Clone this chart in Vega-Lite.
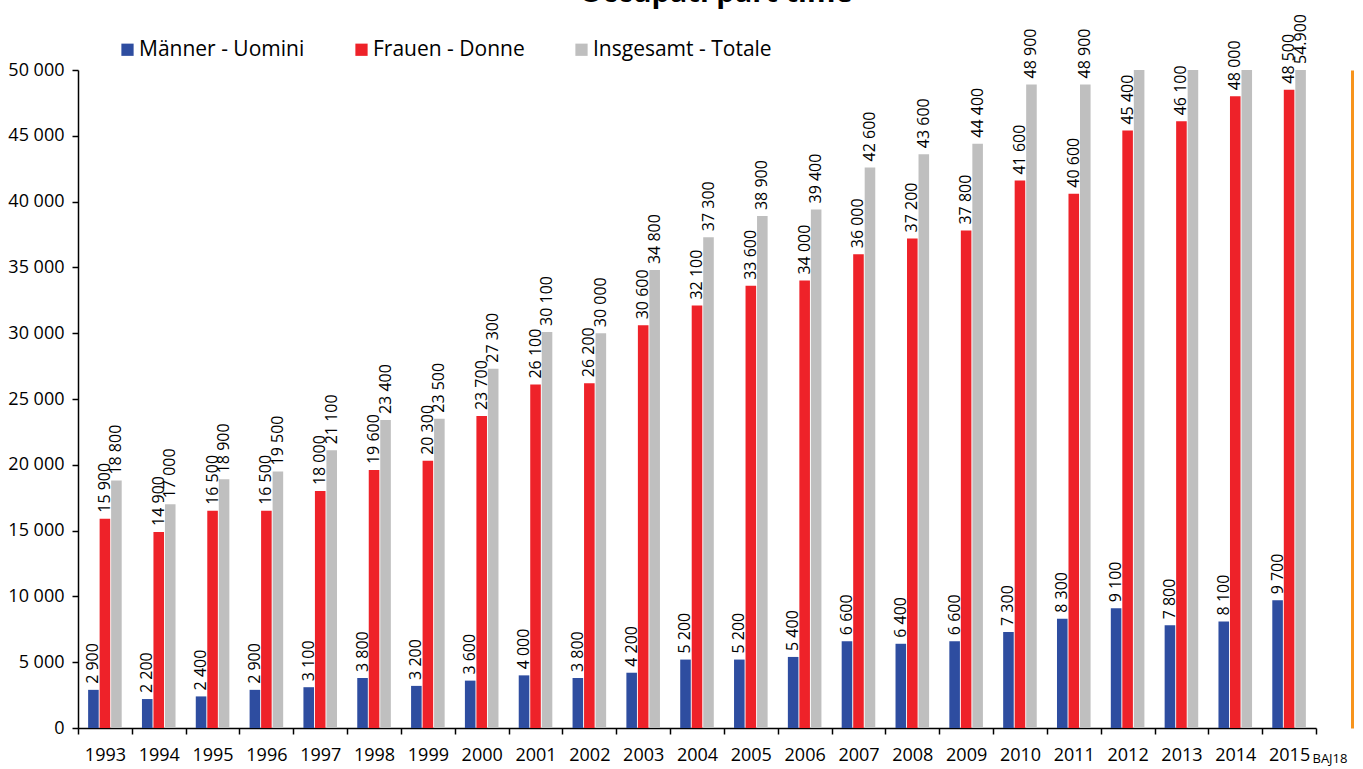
{
  "$schema": "https://vega.github.io/schema/vega-lite/v6.json",
  "autosize": {"type": "none"},
  "width": 1238,
  "height": 658,
  "padding": {"left": 78, "top": 70, "right": 47, "bottom": 41},
  "background": "white",
  "title": {"text": "Occupati part time", "fontSize": 29, "font": "Open Sans", "fontWeight": "bold", "color": "black", "anchor": "middle", "offset": 0, "dx": 19, "dy": -6},
  "config": {
    "view": {"stroke": null},
    "font": "Open Sans",
    "locale": {"number": {"decimal": ",", "thousands": " ", "grouping": [3], "currency": ["", " €"]}}
  },
  "data": {"values": [
    {"year": "1993", "group": "Männer - Uomini", "value": 2900},
    {"year": "1993", "group": "Frauen - Donne", "value": 15900},
    {"year": "1993", "group": "Insgesamt - Totale", "value": 18800},
    {"year": "1994", "group": "Männer - Uomini", "value": 2200},
    {"year": "1994", "group": "Frauen - Donne", "value": 14900},
    {"year": "1994", "group": "Insgesamt - Totale", "value": 17000},
    {"year": "1995", "group": "Männer - Uomini", "value": 2400},
    {"year": "1995", "group": "Frauen - Donne", "value": 16500},
    {"year": "1995", "group": "Insgesamt - Totale", "value": 18900},
    {"year": "1996", "group": "Männer - Uomini", "value": 2900},
    {"year": "1996", "group": "Frauen - Donne", "value": 16500},
    {"year": "1996", "group": "Insgesamt - Totale", "value": 19500},
    {"year": "1997", "group": "Männer - Uomini", "value": 3100},
    {"year": "1997", "group": "Frauen - Donne", "value": 18000},
    {"year": "1997", "group": "Insgesamt - Totale", "value": 21100},
    {"year": "1998", "group": "Männer - Uomini", "value": 3800},
    {"year": "1998", "group": "Frauen - Donne", "value": 19600},
    {"year": "1998", "group": "Insgesamt - Totale", "value": 23400},
    {"year": "1999", "group": "Männer - Uomini", "value": 3200},
    {"year": "1999", "group": "Frauen - Donne", "value": 20300},
    {"year": "1999", "group": "Insgesamt - Totale", "value": 23500},
    {"year": "2000", "group": "Männer - Uomini", "value": 3600},
    {"year": "2000", "group": "Frauen - Donne", "value": 23700},
    {"year": "2000", "group": "Insgesamt - Totale", "value": 27300},
    {"year": "2001", "group": "Männer - Uomini", "value": 4000},
    {"year": "2001", "group": "Frauen - Donne", "value": 26100},
    {"year": "2001", "group": "Insgesamt - Totale", "value": 30100},
    {"year": "2002", "group": "Männer - Uomini", "value": 3800},
    {"year": "2002", "group": "Frauen - Donne", "value": 26200},
    {"year": "2002", "group": "Insgesamt - Totale", "value": 30000},
    {"year": "2003", "group": "Männer - Uomini", "value": 4200},
    {"year": "2003", "group": "Frauen - Donne", "value": 30600},
    {"year": "2003", "group": "Insgesamt - Totale", "value": 34800},
    {"year": "2004", "group": "Männer - Uomini", "value": 5200},
    {"year": "2004", "group": "Frauen - Donne", "value": 32100},
    {"year": "2004", "group": "Insgesamt - Totale", "value": 37300},
    {"year": "2005", "group": "Männer - Uomini", "value": 5200},
    {"year": "2005", "group": "Frauen - Donne", "value": 33600},
    {"year": "2005", "group": "Insgesamt - Totale", "value": 38900},
    {"year": "2006", "group": "Männer - Uomini", "value": 5400},
    {"year": "2006", "group": "Frauen - Donne", "value": 34000},
    {"year": "2006", "group": "Insgesamt - Totale", "value": 39400},
    {"year": "2007", "group": "Männer - Uomini", "value": 6600},
    {"year": "2007", "group": "Frauen - Donne", "value": 36000},
    {"year": "2007", "group": "Insgesamt - Totale", "value": 42600},
    {"year": "2008", "group": "Männer - Uomini", "value": 6400},
    {"year": "2008", "group": "Frauen - Donne", "value": 37200},
    {"year": "2008", "group": "Insgesamt - Totale", "value": 43600},
    {"year": "2009", "group": "Männer - Uomini", "value": 6600},
    {"year": "2009", "group": "Frauen - Donne", "value": 37800},
    {"year": "2009", "group": "Insgesamt - Totale", "value": 44400},
    {"year": "2010", "group": "Männer - Uomini", "value": 7300},
    {"year": "2010", "group": "Frauen - Donne", "value": 41600},
    {"year": "2010", "group": "Insgesamt - Totale", "value": 48900},
    {"year": "2011", "group": "Männer - Uomini", "value": 8300},
    {"year": "2011", "group": "Frauen - Donne", "value": 40600},
    {"year": "2011", "group": "Insgesamt - Totale", "value": 48900},
    {"year": "2012", "group": "Männer - Uomini", "value": 9100},
    {"year": "2012", "group": "Frauen - Donne", "value": 45400},
    {"year": "2012", "group": "Insgesamt - Totale", "value": 54500},
    {"year": "2013", "group": "Männer - Uomini", "value": 7800},
    {"year": "2013", "group": "Frauen - Donne", "value": 46100},
    {"year": "2013", "group": "Insgesamt - Totale", "value": 53900},
    {"year": "2014", "group": "Männer - Uomini", "value": 8100},
    {"year": "2014", "group": "Frauen - Donne", "value": 48000},
    {"year": "2014", "group": "Insgesamt - Totale", "value": 56100},
    {"year": "2015", "group": "Männer - Uomini", "value": 9700},
    {"year": "2015", "group": "Frauen - Donne", "value": 48500},
    {"year": "2015", "group": "Insgesamt - Totale", "value": 54900}
  ]},
  "encoding": {
    "x": {
      "field": "year", "type": "ordinal",
      "scale": {"paddingInner": 0, "paddingOuter": 0},
      "axis": {
        "title": "BAJ18", "titleAnchor": "end", "titleAlign": "left", "titleX": 1234, "titleY": 34,
        "titleBaseline": "alphabetic", "titleFontSize": 13, "titleFontWeight": "normal", "titleColor": "black", "titleFont": "Open Sans",
        "labelAngle": 0, "labelFontSize": 18, "labelColor": "black", "labelPadding": 12,
        "tickBand": "extent", "tickSize": 6, "tickColor": "black", "tickWidth": 1.5,
        "domainColor": "black", "domainWidth": 1.5
      }
    },
    "xOffset": {"field": "group", "type": "nominal", "scale": {"domain": ["Männer - Uomini", "Frauen - Donne", "Insgesamt - Totale"], "paddingInner": 0.08, "paddingOuter": 0.88}},
    "y": {
      "field": "value", "type": "quantitative",
      "scale": {"domain": [0, 50000], "clamp": true, "nice": false}
    }
  },
  "layer": [
    {
      "mark": {"type": "bar"},
      "encoding": {
        "y": {
          "field": "value", "type": "quantitative",
          "scale": {"domain": [0, 50000], "clamp": true, "nice": false},
          "axis": {
            "title": null, "values": [0, 5000, 10000, 15000, 20000, 25000, 30000, 35000, 40000, 45000, 50000],
            "format": ",.0f", "grid": false, "labelFontSize": 18, "labelColor": "black", "labelPadding": 8,
            "tickSize": 6, "tickColor": "black", "tickWidth": 1.5, "domainColor": "black", "domainWidth": 1.5
          }
        },
        "color": {
          "field": "group", "type": "nominal",
          "scale": {"domain": ["Männer - Uomini", "Frauen - Donne", "Insgesamt - Totale"], "range": ["#2E4DA0", "#EE2229", "#BFBFBF"]},
          "legend": {
            "title": null, "orient": "none", "direction": "horizontal", "legendX": 39, "legendY": -31,
            "symbolType": "square", "symbolSize": 150, "symbolStrokeWidth": 0, "labelFontSize": 21, "labelColor": "black",
            "labelOffset": 1, "columnPadding": 46, "labelFont": "Open Sans", "labelLimit": 0
          }
        }
      }
    },
    {
      "transform": [{"filter": "datum.value <= 50000 || datum.year == '2015'"}],
      "mark": {"type": "text", "angle": 270, "align": "left", "baseline": "middle", "dx": 6, "fontSize": 16, "color": "black"},
      "encoding": {
        "y": {
          "field": "value", "type": "quantitative",
          "scale": {"domain": [0, 50000], "clamp": true, "nice": false},
          "axis": {"orient": "right", "title": null, "labels": false, "ticks": false, "grid": false, "domainColor": "#F7941D", "domainWidth": 3, "offset": 36}
        },
        "text": {
          "condition": {"test": "datum.year == '2015' && datum.group == 'Insgesamt - Totale'", "value": "54.900"},
          "field": "value", "type": "quantitative", "format": ",.0f"
        }
      }
    }
  ],
  "resolve": {"axis": {"y": "independent"}}
}
